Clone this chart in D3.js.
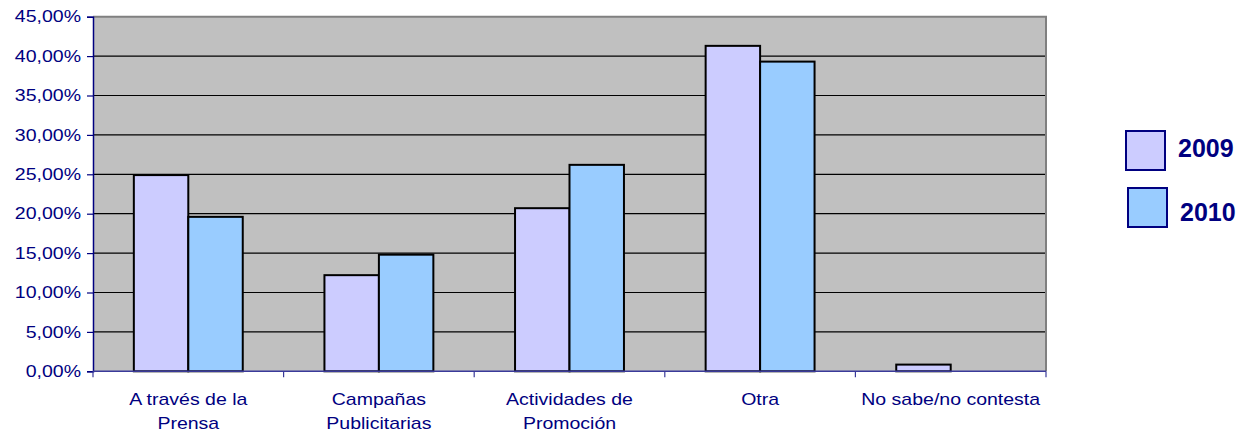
<!DOCTYPE html>
<html>
<head>
<meta charset="utf-8">
<script src="https://cdn.jsdelivr.net/npm/d3@7"></script>
<style>
  body { margin: 0; background: #fff; }
  svg { display: block; }
</style>
</head>
<body>
<script>
// data
var categories = ["A través de la Prensa", "Campañas Publicitarias", "Actividades de Promoción", "Otra", "No sabe/no contesta"];
var categoryLines = [["A través de la", "Prensa"], ["Campañas", "Publicitarias"], ["Actividades de", "Promoción"], ["Otra"], ["No sabe/no contesta"]];
var seriesNames = ["2009", "2010"];
var values2009 = [24.9, 12.2, 20.7, 41.3, 0.85];
var values2010 = [19.6, 14.8, 26.2, 39.3, 0];
var yTicks = [0, 5, 10, 15, 20, 25, 30, 35, 40, 45];
var colors = ["#CCCCFF", "#99CCFF"];

var w = 1244, h = 433;
var plotLeft = 93, plotRight = 1046, plotTop = 16.7, plotBottom = 371.3;
var navy = "#000080";
var sx = 1.22; // text looks horizontally stretched in the original

var svg = d3.select("body").append("svg")
    .attr("width", w)
    .attr("height", h);

var x0 = d3.scaleBand()
    .domain(categories)
    .range([plotLeft, plotRight])
    .padding(0);

var x1 = d3.scaleBand()
    .domain(seriesNames)
    .range([0, x0.bandwidth()])
    .paddingInner(0)
    .paddingOuter(0.75);

var y = d3.scaleLinear()
    .domain([0, 45])
    .range([plotBottom, plotTop]);

// plot background
svg.append("rect")
    .attr("x", plotLeft)
    .attr("y", plotTop)
    .attr("width", plotRight - plotLeft)
    .attr("height", plotBottom - plotTop)
    .attr("fill", "#C0C0C0");

// gridlines
svg.append("g")
    .selectAll("line")
    .data(yTicks.filter(function (d) { return d > 0 && d < 45; }))
    .enter()
    .append("line")
    .attr("x1", plotLeft)
    .attr("x2", plotRight)
    .attr("y1", function (d) { return y(d); })
    .attr("y2", function (d) { return y(d); })
    .attr("stroke", "#000")
    .attr("stroke-width", 1.2);

// plot border (top + right)
svg.append("path")
    .attr("d", "M" + plotLeft + "," + plotTop + "H" + plotRight + "V" + plotBottom)
    .attr("fill", "none")
    .attr("stroke", "#808080")
    .attr("stroke-width", 2);

// bars
var rows = categories.map(function (c, i) {
    return { cat: c, vals: [{ s: "2009", v: values2009[i] }, { s: "2010", v: values2010[i] }] };
});

var groups = svg.selectAll(".grp")
    .data(rows)
    .enter()
    .append("g")
    .attr("class", "grp")
    .attr("transform", function (d) { return "translate(" + x0(d.cat) + ",0)"; });

groups.selectAll("rect")
    .data(function (d) { return d.vals.filter(function (e) { return e.v > 0; }); })
    .enter()
    .append("rect")
    .attr("x", function (d) { return x1(d.s); })
    .attr("y", function (d) { return y(d.v); })
    .attr("width", x1.bandwidth())
    .attr("height", function (d) { return y(0) - y(d.v); })
    .attr("fill", function (d) { return colors[seriesNames.indexOf(d.s)]; })
    .attr("stroke", "#000")
    .attr("stroke-width", 2);

// y axis
var yAxis = d3.axisLeft(y)
    .tickValues(yTicks)
    .tickSize(6)
    .tickPadding(0)
    .tickFormat(function (d) { return d.toFixed(2).replace(".", ",") + "%"; });

var gy = svg.append("g")
    .attr("transform", "translate(" + plotLeft + ",0)")
    .call(yAxis);

gy.select(".domain").attr("stroke", navy).attr("stroke-width", 1.5);
gy.selectAll(".tick line").attr("stroke", navy).attr("stroke-width", 1.2);
gy.selectAll(".tick text")
    .attr("fill", navy)
    .attr("font-family", "'Liberation Sans', Arial, sans-serif")
    .attr("font-size", 16)
    .attr("x", -12 / sx)
    .attr("dy", "0.33em")
    .attr("transform", "scale(" + sx + ",1)");

// x axis line and ticks at category boundaries
svg.append("line")
    .attr("x1", plotLeft)
    .attr("x2", plotRight)
    .attr("y1", plotBottom)
    .attr("y2", plotBottom)
    .attr("stroke", "#3a3a9a")
    .attr("stroke-width", 1.5);

var bounds = categories.map(function (c) { return x0(c); }).concat([plotRight]);
svg.append("g")
    .selectAll("line")
    .data(bounds)
    .enter()
    .append("line")
    .attr("x1", function (d) { return d; })
    .attr("x2", function (d) { return d; })
    .attr("y1", plotBottom)
    .attr("y2", plotBottom + 6)
    .attr("stroke", "#3a3a9a")
    .attr("stroke-width", 1.2);

// category labels
var labels = svg.append("g")
    .selectAll("text")
    .data(categories)
    .enter()
    .append("text")
    .attr("transform", function (d) {
        return "translate(" + (x0(d) + x0.bandwidth() / 2) + ",405) scale(" + sx + ",1)";
    })
    .attr("text-anchor", "middle")
    .attr("fill", navy)
    .attr("font-family", "'Liberation Sans', Arial, sans-serif")
    .attr("font-size", 16);

labels.selectAll("tspan")
    .data(function (d, i) { return categoryLines[i]; })
    .enter()
    .append("tspan")
    .attr("x", 0)
    .attr("y", function (d, i) { return i * 24; })
    .text(function (d) { return d; });

// legend
var legend = svg.append("g");
var legendY = [131, 188];
seriesNames.forEach(function (s, i) {
    legend.append("rect")
        .attr("x", 1126 + i * 2)
        .attr("y", legendY[i])
        .attr("width", 39)
        .attr("height", 39)
        .attr("fill", colors[i])
        .attr("stroke", navy)
        .attr("stroke-width", 2);
    legend.append("text")
        .attr("x", 1178 + i * 2)
        .attr("y", legendY[i] + 26 + i * 7)
        .attr("fill", navy)
        .attr("font-family", "'Liberation Sans', Arial, sans-serif")
        .attr("font-weight", "bold")
        .attr("font-size", 25)
        .text(s);
});
</script>
</body>
</html>
